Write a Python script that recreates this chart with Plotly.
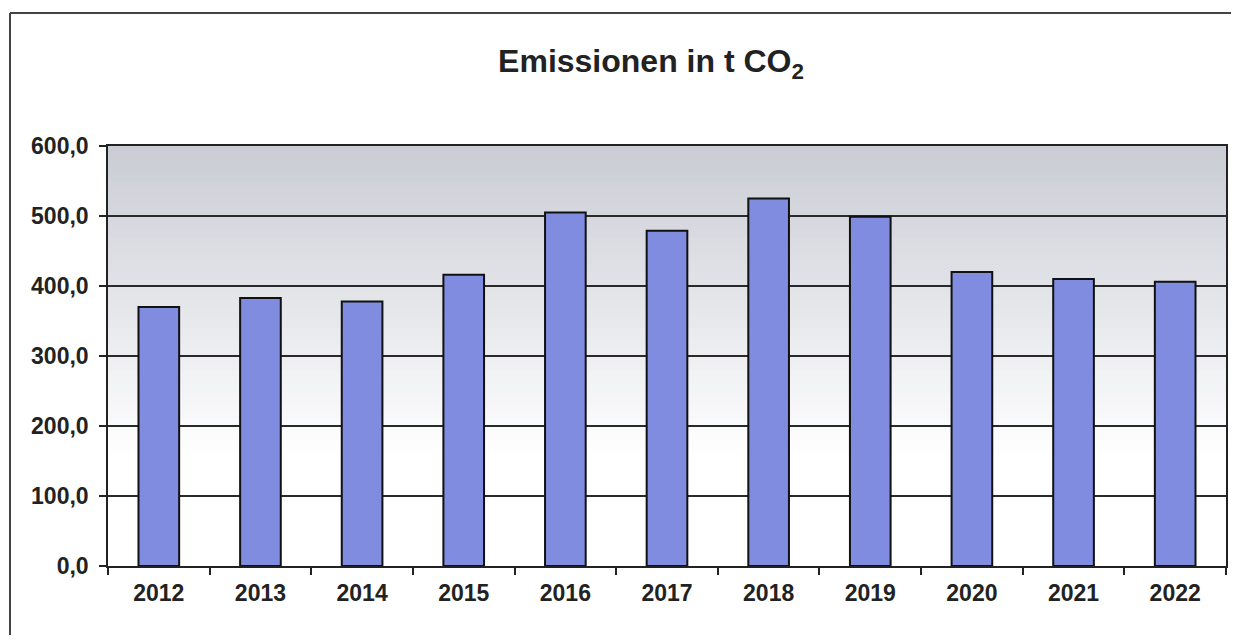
import plotly.graph_objects as go

years = ["2012", "2013", "2014", "2015", "2016", "2017", "2018", "2019", "2020", "2021", "2022"]
emissions = [370, 383, 378, 416, 505, 479, 525, 499, 420, 410, 406]
y_ticks = [0, 100, 200, 300, 400, 500, 600]

OFF = 8  # page body margin
W, H = 1239 - OFF, 643 - 2 * OFF
L, T = 108 - OFF, 146 - OFF
R = W - (1226 - OFF)
B = H - (566 - OFF)
pw, ph = W - L - R, H - T - B

fig = go.Figure()
fig.add_trace(go.Bar(
    x=years, y=emissions, width=0.4,
    marker=dict(color="#7f8ce0", line=dict(color="#111111", width=2)),
))

# gradient background of plot area (grey top -> white bottom)
shapes = []
n = 60
top = (203, 205, 214)
for i in range(n):
    f = i / n  # 0 at top
    t = min(1.0, f / 0.72)
    c = tuple(int(top[k] + (255 - top[k]) * t) for k in range(3))
    shapes.append(dict(type="rect", xref="x domain", yref="y domain",
                       x0=0, x1=1, y0=1 - (i + 1) / n, y1=1 - i / n,
                       fillcolor="rgb(%d,%d,%d)" % c, line=dict(width=0), layer="below"))
# outer frame: top and left edges only (rest lies outside the window)
fx0 = (10 - OFF - L) / pw
fx1 = (W - L) / pw
fy0 = -B / ph
fy1 = 1 + (T - (13 - OFF)) / ph
shapes.append(dict(type="line", xref="paper", yref="paper", x0=fx0, x1=fx1, y0=fy1, y1=fy1,
                   line=dict(color="#444444", width=2)))
shapes.append(dict(type="line", xref="paper", yref="paper", x0=fx0, x1=fx0, y0=fy0, y1=fy1,
                   line=dict(color="#444444", width=2)))

FONT = "Liberation Sans, Arial"
fig.update_layout(
    width=W, height=H,
    margin=dict(l=L, r=R, t=T, b=B),
    paper_bgcolor="white", plot_bgcolor="white",
    separators=",.",
    showlegend=False,
    shapes=shapes,
    title=dict(text="<b>Emissionen in t CO<sub>2</sub></b>", x=(651 - OFF) / W, xanchor="center",
               y=1 - (61 - OFF) / H, yanchor="middle",
               font=dict(family=FONT, size=32, color="#222222")),
    font=dict(family=FONT, size=23, color="#222222"),
    bargap=0.6,
)
fig.update_xaxes(
    type="category", tickson="boundaries", ticks="outside", ticklen=7, tickwidth=1.5,
    tickcolor="#222222", showline=True, linecolor="#222222", linewidth=1.5, mirror=True,
    showgrid=False, tickfont=dict(family=FONT, size=23, weight="bold"),
    ticklabelstandoff=6,
)
fig.update_yaxes(
    range=[0, 600], tickvals=y_ticks, tickformat=".1f",
    ticks="outside", ticklen=7, tickwidth=1.5, tickcolor="#222222",
    showline=True, linecolor="#222222", linewidth=1.5, mirror=True,
    showgrid=True, gridcolor="#2a2a2a", gridwidth=1.5, zeroline=False,
    tickfont=dict(family=FONT, size=23, weight="bold"),
    ticklabelstandoff=6,
)
fig.write_html("out.html", config={"displayModeBar": False})
